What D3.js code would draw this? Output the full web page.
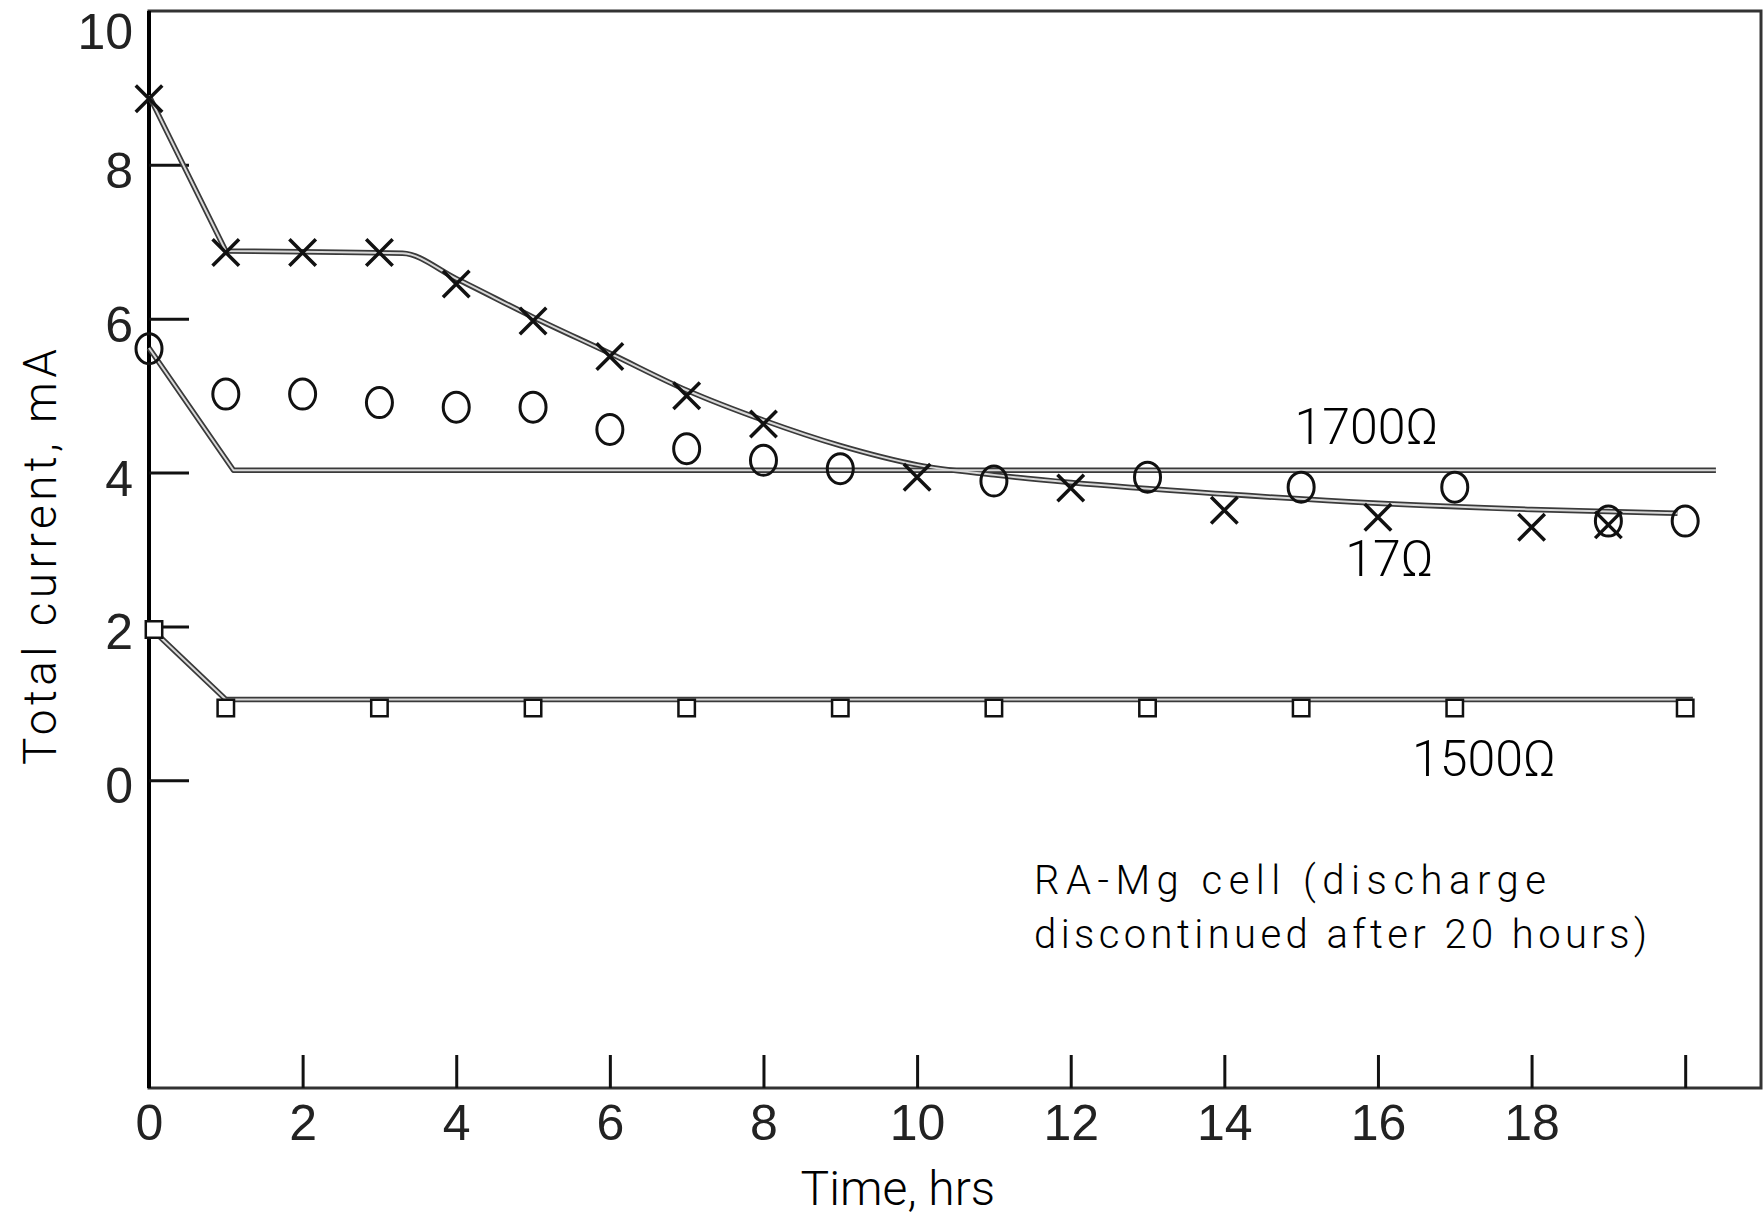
<!DOCTYPE html>
<html>
<head>
<meta charset="utf-8">
<script src="https://cdn.jsdelivr.net/npm/d3@7"></script>
<style>
  html, body { margin: 0; padding: 0; background: #fff; }
  svg { display: block; font-family: Roboto, "Open Sans", "DejaVu Sans", sans-serif; font-weight: 300; }
  .frame { fill: none; stroke: #333; stroke-width: 3; }
  .tick line { stroke: #111; stroke-width: 3; }
  .tick text { fill: #222; }
</style>
</head>
<body>
<svg id="chart"></svg>
<script>
// 17 ohm (x markers)
const timesX = [0, 1, 2, 3, 4, 5, 6, 7, 8, 10, 12, 14, 16, 18, 19];
const valuesX = [8.86, 6.86, 6.86, 6.86, 6.45, 5.97, 5.51, 5.0, 4.63, 3.94, 3.8, 3.51, 3.42, 3.29, 3.32];
const fitX = [[0, 8.9], [1, 6.88], [3.3, 6.85], [4, 6.52], [5, 6.02], [6, 5.55], [7, 5.07], [8, 4.68],
  [9, 4.35], [10, 4.1], [11, 3.97], [12, 3.87], [14, 3.72], [16, 3.6], [18, 3.52], [19.9, 3.47]];

// 1700 ohm (circles)
const timesO = [0, 1, 2, 3, 4, 5, 6, 7, 8, 9, 11, 13, 15, 17, 19, 20];
const valuesO = [5.61, 5.02, 5.02, 4.91, 4.85, 4.85, 4.56, 4.31, 4.16, 4.05, 3.89, 3.94, 3.81, 3.81, 3.37, 3.37];
const fitO = [[0, 5.62], [1.1, 4.03], [20.4, 4.03]];

// 1500 ohm (squares)
const timesS = [0, 1, 3, 5, 7, 9, 11, 13, 15, 17, 20];
const valuesS = [1.96, 0.94, 0.94, 0.94, 0.94, 0.94, 0.94, 0.94, 0.94, 0.94, 0.94];
const fitS = [[0, 2.0], [1, 1.05], [20.1, 1.05]];

const yTicks = [0, 2, 4, 6, 8, 10];
const xTicks = [0, 2, 4, 6, 8, 10, 12, 14, 16, 18, 20];
const xTickLabels = ["0", "2", "4", "6", "8", "10", "12", "14", "16", "18", ""];

const width = 1763, height = 1226;
const marginLeft = 149, marginRight = 1, marginTop = 11, marginBottom = 138;

const svg = d3.select("#chart").attr("width", width).attr("height", height);

const x = d3.scaleLinear().domain([0, 21]).range([marginLeft, width - marginRight]);
const y = d3.scaleLinear().domain([-4, 10]).range([height - marginBottom, marginTop]);

// frame
svg.append("rect").attr("class", "frame")
  .attr("x", x(0)).attr("y", y(10))
  .attr("width", x(21) - x(0) - 1).attr("height", y(-4) - y(10));
svg.append("line")
  .attr("x1", x(0)).attr("x2", x(0)).attr("y1", y(10)).attr("y2", y(-4))
  .attr("stroke", "#000").attr("stroke-width", 4);

// axes with inward ticks
const yAxisG = svg.append("g")
  .attr("transform", `translate(${x(0)},0)`)
  .call(d3.axisRight(y).tickValues(yTicks).tickSize(40).tickFormat(""));
yAxisG.select(".domain").remove();
yAxisG.selectAll(".tick").filter((d) => d === 10).select("line").remove();
yAxisG.selectAll(".tick").append("text")
  .attr("x", -16)
  .attr("dy", (d) => (d === 10 ? "0.75em" : "0.45em"))
  .attr("text-anchor", "end")
  .attr("font-size", 50)
  .text((d) => d);

const xAxisG = svg.append("g")
  .attr("transform", `translate(0,${y(-4)})`)
  .call(d3.axisTop(x).tickValues(xTicks).tickSize(33).tickFormat(""));
xAxisG.select(".domain").remove();
xAxisG.selectAll(".tick").filter((d) => d === 0).select("line").remove();
xAxisG.selectAll(".tick").append("text")
  .attr("y", 52).attr("text-anchor", "middle")
  .attr("font-size", 50)
  .text((d, i) => xTickLabels[i]);

// axis titles
svg.append("text")
  .attr("x", x(9.75)).attr("y", 1205)
  .attr("text-anchor", "middle").attr("font-size", 48)
  .text("Time, hrs");

svg.append("text")
  .attr("transform", `translate(56,557) rotate(-90)`)
  .attr("text-anchor", "middle").attr("font-size", 46)
  .attr("textLength", 416).attr("lengthAdjust", "spacing")
  .text("Total current, mA");

// fitted lines (17 ohm: straight drop, then smooth curve)
const line = d3.line().x((d) => x(d[0])).y((d) => y(d[1]));
const curved = d3.line().x((d) => x(d[0])).y((d) => y(d[1])).curve(d3.curveMonotoneX);

const fits = [
  line(fitO),
  line(fitS),
  line(fitX.slice(0, 2)) + curved(fitX.slice(1)),
];
const fitG = svg.append("g").attr("fill", "none").attr("stroke-linejoin", "round");
fitG.selectAll(".outer").data(fits).join("path")
  .attr("d", (d) => d)
  .attr("stroke", "#3a3a3a").attr("stroke-width", 5.5);
fitG.selectAll(".inner").data(fits).join("path")
  .attr("d", (d) => d)
  .attr("stroke", "#d8d8d8").attr("stroke-width", 2);

// markers
svg.append("g").selectAll("path").data(timesX).join("path")
  .attr("transform", (d, i) => `translate(${x(d)},${y(valuesX[i])})`)
  .attr("d", d3.symbol(d3.symbolX, 460))
  .attr("fill", "none").attr("stroke", "#111").attr("stroke-width", 3.5);

svg.append("g").selectAll("ellipse").data(timesO).join("ellipse")
  .attr("cx", (d) => x(d)).attr("cy", (d, i) => y(valuesO[i]))
  .attr("rx", 13).attr("ry", 15)
  .attr("fill", "none").attr("stroke", "#111").attr("stroke-width", 3);

svg.append("g").selectAll("path").data(timesS).join("path")
  .attr("transform", (d, i) => `translate(${x(d) + (i === 0 ? 5 : 0)},${y(valuesS[i])})`)
  .attr("d", d3.symbol(d3.symbolSquare, 270))
  .attr("fill", "#fff").attr("stroke", "#111").attr("stroke-width", 2.5);

// labels
const notes = [
  { text: "1700Ω", t: 15.85, v: 4.37 },
  { text: "17Ω", t: 16.15, v: 2.66 },
  { text: "1500Ω", t: 17.38, v: 0.06 },
];
svg.append("g").selectAll("text").data(notes).join("text")
  .attr("x", (d) => x(d.t)).attr("y", (d) => y(d.v))
  .attr("text-anchor", "middle").attr("font-size", 50)
  .text((d) => d.text);

svg.append("text")
  .attr("x", 1034).attr("y", 894).attr("font-size", 40)
  .attr("textLength", 512).attr("lengthAdjust", "spacing")
  .text("RA-Mg cell (discharge");
svg.append("text")
  .attr("x", 1034).attr("y", 948).attr("font-size", 40)
  .attr("textLength", 613).attr("lengthAdjust", "spacing")
  .text("discontinued after 20 hours)");
</script>
</body>
</html>
